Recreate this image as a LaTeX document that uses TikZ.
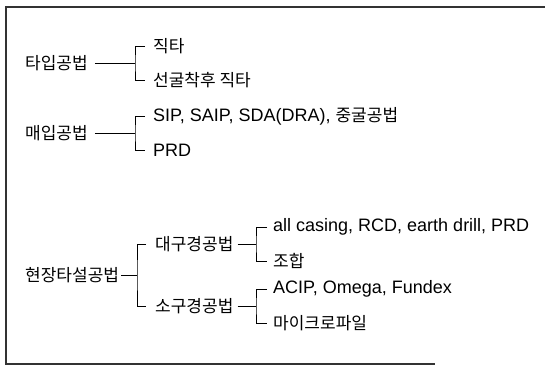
\documentclass[tikz,border=0pt]{standalone}
\usepackage{fontspec}
\newfontfamily\kr{Noto Sans CJK KR}
\newfontfamily\lat{Liberation Sans}
\usetikzlibrary{calc}
\tikzset{
    item/.style={anchor=west, inner sep=0pt, font=\kr\fontsize{17}{20}\selectfont},
    latin/.style={item, font=\lat\fontsize{18}{20}\selectfont},
    link/.style={line width=0.8pt},
    frame/.style={line width=1.1pt, black!80}
}

\begin{document}
\begin{tikzpicture}[x=1pt,y=-1pt]
        \useasboundingbox (0,0) rectangle (545,370);
        % open frame, no right side
        \draw[frame] (545,7) -- (6,7) -- (6,364) -- (435,364);

        % first group
        \node[item] (tayip) at (25,63) {타입공법};
        \node[item] (jikta) at (153,46) {직타};
        \node[item] (seongul) at (153,80) {선굴착후 직타};
        \coordinate (b1) at (135,63);
        \draw[link] ([xshift=7pt]tayip.east) -- (b1);
        \draw[link] ([xshift=-8pt]jikta.west) -| (b1) |- ([xshift=-8pt]seongul.west);

        % second group
        \node[item] (maeip) at (25,133) {매입공법};
        \node[item] (sip) at (153,116) {{\lat\fontsize{18}{20}\selectfont SIP, SAIP, SDA(DRA), }중굴공법};
        \node[latin] (prd) at (153,150) {PRD};
        \coordinate (b2) at (135,133);
        \draw[link] ([xshift=7pt]maeip.east) -- (b2);
        \draw[link] ([xshift=-8pt]sip.west) -| (b2) |- ([xshift=-8pt]prd.west);

        % third group
        \node[item] (hyeonjang) at (25,275) {현장타설공법};
        \node[item] (daegu) at (155,244) {대구경공법};
        \node[item] (sogu) at (155,306) {소구경공법};
        \coordinate (b3) at (137,275);
        \draw[link] ([xshift=2pt]hyeonjang.east) -- (b3);
        \draw[link] ([xshift=-9pt]daegu.west) -| (b3) |- ([xshift=-9pt]sogu.west);

        \node[latin] (casing) at (273,227) {all casing, RCD, earth drill, PRD};
        \node[item] (johap) at (273,261) {조합};
        \coordinate (b4) at (256,244);
        \draw[link] ([xshift=4pt]daegu.east) -- (b4);
        \draw[link] ([xshift=-6pt]casing.west) -| (b4) |- ([xshift=-6pt]johap.west);

        \node[latin] (acip) at (273,289) {ACIP, Omega, Fundex};
        \node[item] (micro) at (273,323) {마이크로파일};
        \coordinate (b5) at (256,306);
        \draw[link] ([xshift=4pt]sogu.east) -- (b5);
        \draw[link] ([xshift=-6pt]acip.west) -| (b5) |- ([xshift=-6pt]micro.west);
\end{tikzpicture}
\end{document}
